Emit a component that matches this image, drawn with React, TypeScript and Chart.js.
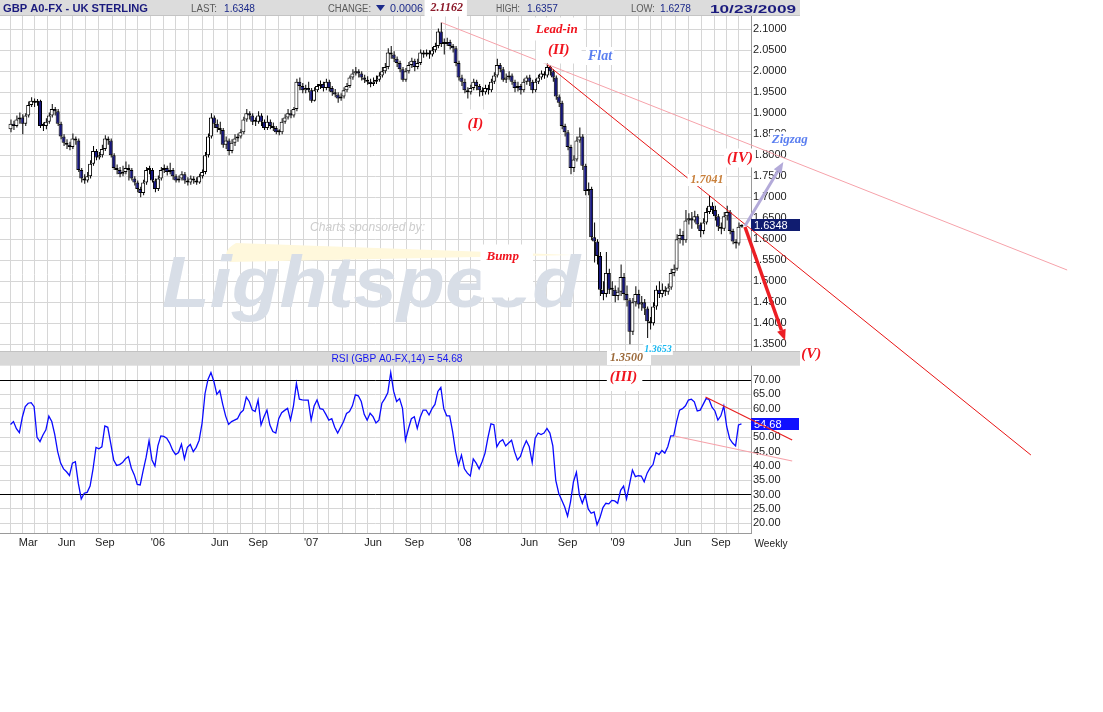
import React, { useEffect, useRef } from 'react';
import { Chart, registerables } from 'chart.js';
Chart.register(...registerables);

const SANS = '"Liberation Sans", Arial, sans-serif';
const SERIF = '"Liberation Serif", "Times New Roman", serif';

// ---------------- data ----------------
const FIRST_WEEK_UTC = Date.UTC(2005, 0, 21); // week ending Fri 21 Jan 2005
const FIRST_OPEN = 1.862;

const CLOSES = [
  1.875, 1.870, 1.885, 1.890, 1.875, 1.895, 1.920, 1.930, 1.925, 1.930,
  1.870, 1.870, 1.880, 1.895, 1.910, 1.905, 1.875, 1.845, 1.830, 1.825,
  1.820, 1.840, 1.835, 1.765, 1.745, 1.740, 1.750, 1.780, 1.810, 1.795,
  1.800, 1.815, 1.840, 1.835, 1.800, 1.770, 1.765, 1.755, 1.760, 1.770,
  1.765, 1.745, 1.735, 1.720, 1.710, 1.735, 1.765, 1.765, 1.740, 1.720,
  1.745, 1.765, 1.770, 1.760, 1.765, 1.750, 1.740, 1.745, 1.755, 1.740,
  1.735, 1.745, 1.740, 1.735, 1.750, 1.760, 1.800, 1.845, 1.890, 1.875,
  1.865, 1.860, 1.825, 1.835, 1.810, 1.830, 1.840, 1.845, 1.855, 1.885,
  1.900, 1.895, 1.880, 1.880, 1.895, 1.880, 1.865, 1.880, 1.870, 1.865,
  1.855, 1.855, 1.880, 1.890, 1.900, 1.895, 1.910, 1.975, 1.965, 1.955,
  1.960, 1.955, 1.930, 1.955, 1.965, 1.970, 1.960, 1.975, 1.960, 1.950,
  1.945, 1.935, 1.940, 1.955, 1.965, 1.985, 1.995, 2.000, 1.995, 1.985,
  1.980, 1.975, 1.970, 1.975, 1.980, 1.990, 2.000, 2.010, 2.045, 2.040,
  2.030, 2.020, 2.005, 1.980, 2.000, 2.015, 2.025, 2.010, 2.020, 2.045,
  2.040, 2.045, 2.040, 2.050, 2.060, 2.095, 2.065, 2.065, 2.070, 2.060,
  2.055, 2.020, 1.985, 1.975, 1.955, 1.950, 1.960, 1.975, 1.965, 1.955,
  1.950, 1.960, 1.955, 1.975, 1.990, 2.015, 2.005, 1.980, 1.985, 1.990,
  1.975, 1.960, 1.965, 1.955, 1.975, 1.985, 1.975, 1.955, 1.975, 1.985,
  1.995, 1.990, 2.010, 2.000, 1.985, 1.940, 1.925, 1.870, 1.855, 1.820,
  1.770, 1.790, 1.835, 1.845, 1.775, 1.715, 1.720, 1.605, 1.595, 1.560,
  1.480, 1.470, 1.520, 1.480, 1.480, 1.465, 1.475, 1.510, 1.470, 1.455,
  1.380, 1.450, 1.470, 1.445, 1.450, 1.435, 1.405, 1.400, 1.440, 1.480,
  1.470, 1.480, 1.475, 1.485, 1.520, 1.530, 1.600, 1.610, 1.598, 1.645,
  1.650, 1.645, 1.655, 1.635, 1.620, 1.640, 1.665, 1.680, 1.670, 1.655,
  1.630, 1.625, 1.655, 1.665, 1.620, 1.595, 1.590, 1.630, 1.6348,
];

const HIGHS = [
  1.885, 1.882, 1.895, 1.902, 1.898, 1.900, 1.928, 1.938, 1.935, 1.934,
  1.932, 1.878, 1.888, 1.902, 1.922, 1.915, 1.910, 1.880, 1.850, 1.838,
  1.832, 1.852, 1.845, 1.840, 1.770, 1.755, 1.760, 1.788, 1.822, 1.815,
  1.808, 1.825, 1.848, 1.845, 1.840, 1.805, 1.778, 1.772, 1.775, 1.785,
  1.778, 1.770, 1.750, 1.740, 1.725, 1.742, 1.772, 1.775, 1.770, 1.745,
  1.752, 1.772, 1.778, 1.775, 1.782, 1.770, 1.755, 1.752, 1.762, 1.760,
  1.748, 1.752, 1.750, 1.748, 1.756, 1.766, 1.808, 1.852, 1.900, 1.895,
  1.885, 1.880, 1.865, 1.845, 1.840, 1.838, 1.850, 1.852, 1.862, 1.892,
  1.910, 1.905, 1.900, 1.890, 1.905, 1.900, 1.885, 1.895, 1.885, 1.878,
  1.870, 1.862, 1.888, 1.898, 1.910, 1.908, 1.915, 1.982, 1.985, 1.972,
  1.968, 1.975, 1.960, 1.962, 1.970, 1.978, 1.975, 1.982, 1.980, 1.965,
  1.958, 1.950, 1.948, 1.962, 1.972, 1.990, 2.005, 2.010, 2.005, 2.000,
  1.992, 1.988, 1.982, 1.985, 1.990, 1.998, 2.010, 2.020, 2.055, 2.060,
  2.048, 2.035, 2.025, 2.010, 2.008, 2.022, 2.032, 2.030, 2.030, 2.052,
  2.050, 2.052, 2.050, 2.058, 2.068, 2.102, 2.1162, 2.078, 2.080, 2.075,
  2.065, 2.060, 2.025, 1.992, 1.982, 1.962, 1.968, 1.982, 1.980, 1.970,
  1.962, 1.968, 1.968, 1.982, 1.998, 2.030, 2.020, 2.010, 1.995, 2.000,
  1.995, 1.980, 1.975, 1.970, 1.982, 1.990, 1.992, 1.980, 1.982, 1.992,
  2.002, 2.000, 2.020, 2.015, 2.005, 1.990, 1.945, 1.930, 1.875, 1.860,
  1.825, 1.800, 1.845, 1.866, 1.850, 1.780, 1.735, 1.725, 1.640, 1.600,
  1.570, 1.500, 1.570, 1.530, 1.500, 1.490, 1.485, 1.540, 1.520, 1.490,
  1.460, 1.460, 1.488, 1.480, 1.465, 1.458, 1.440, 1.415, 1.450, 1.490,
  1.500, 1.495, 1.488, 1.495, 1.530, 1.540, 1.612, 1.625, 1.620, 1.670,
  1.662, 1.665, 1.668, 1.660, 1.640, 1.650, 1.675, 1.7041, 1.688, 1.680,
  1.660, 1.640, 1.665, 1.680, 1.670, 1.625, 1.600, 1.640, 1.6357,
];

const LOWS = [
  1.855, 1.860, 1.866, 1.875, 1.850, 1.870, 1.890, 1.915, 1.915, 1.918,
  1.865, 1.858, 1.862, 1.875, 1.890, 1.895, 1.870, 1.838, 1.822, 1.815,
  1.812, 1.815, 1.825, 1.760, 1.735, 1.732, 1.735, 1.745, 1.775, 1.788,
  1.790, 1.795, 1.810, 1.825, 1.795, 1.765, 1.755, 1.748, 1.750, 1.755,
  1.740, 1.740, 1.728, 1.712, 1.700, 1.705, 1.730, 1.755, 1.735, 1.712,
  1.715, 1.740, 1.758, 1.752, 1.755, 1.742, 1.735, 1.735, 1.740, 1.732,
  1.728, 1.730, 1.732, 1.730, 1.732, 1.745, 1.755, 1.795, 1.840, 1.865,
  1.855, 1.850, 1.818, 1.815, 1.800, 1.805, 1.822, 1.832, 1.840, 1.850,
  1.880, 1.885, 1.872, 1.870, 1.875, 1.870, 1.860, 1.860, 1.862, 1.858,
  1.850, 1.848, 1.850, 1.875, 1.885, 1.888, 1.890, 1.905, 1.955, 1.948,
  1.948, 1.950, 1.925, 1.928, 1.950, 1.958, 1.952, 1.955, 1.952, 1.942,
  1.938, 1.925, 1.930, 1.935, 1.950, 1.960, 1.980, 1.990, 1.985, 1.978,
  1.972, 1.968, 1.962, 1.965, 1.970, 1.975, 1.985, 1.995, 2.005, 2.030,
  2.022, 2.010, 1.998, 1.975, 1.975, 1.995, 2.008, 2.000, 2.005, 2.015,
  2.032, 2.035, 2.030, 2.035, 2.045, 2.055, 2.058, 2.040, 2.060, 2.052,
  2.045, 2.012, 1.978, 1.965, 1.948, 1.935, 1.945, 1.955, 1.955, 1.940,
  1.942, 1.945, 1.945, 1.950, 1.970, 1.985, 1.998, 1.975, 1.972, 1.980,
  1.968, 1.950, 1.952, 1.945, 1.950, 1.968, 1.965, 1.948, 1.950, 1.970,
  1.980, 1.982, 1.985, 1.990, 1.975, 1.932, 1.915, 1.862, 1.845, 1.812,
  1.755, 1.760, 1.785, 1.830, 1.765, 1.705, 1.705, 1.598, 1.545, 1.540,
  1.465, 1.455, 1.462, 1.470, 1.465, 1.450, 1.455, 1.465, 1.455, 1.440,
  1.350, 1.372, 1.440, 1.435, 1.430, 1.420, 1.3653, 1.385, 1.395, 1.432,
  1.460, 1.462, 1.465, 1.468, 1.480, 1.512, 1.525, 1.590, 1.585, 1.592,
  1.635, 1.625, 1.640, 1.625, 1.605, 1.612, 1.635, 1.660, 1.660, 1.645,
  1.620, 1.612, 1.620, 1.645, 1.612, 1.588, 1.578, 1.585, 1.6278,
];

const RSI = [
  54.5, 55.5, 53, 51.6, 57, 60.7, 61.9, 62.1, 60.7, 50,
  48.5, 50.8, 52.6, 57.4, 55.5, 51, 45, 41, 39, 38,
  36.7, 41, 41.5, 34, 28.5, 30.5, 30.8, 33, 39, 46.5,
  46, 46.7, 54, 53.5, 47.9, 42.1, 40.2, 40.5, 41.2, 42.5,
  43.3, 39.2, 36.9, 33.6, 33.4, 38.4, 43, 48.8, 42.1, 40,
  47, 50.5, 50.3, 49.7, 48, 45.5, 44, 44.7, 47.6, 42.5,
  46.5, 47.5, 45, 46.5, 49, 55, 65.3, 70.2, 72.6, 69.5,
  65, 66.3, 61.5, 57.4, 54.5, 55.5, 56, 56.5, 58.5, 59.5,
  64, 62.5, 59.6, 59, 63, 54.3, 57.2, 59.5, 54.3, 52,
  51.5, 56.5, 58.6, 59.4, 60.1, 56, 61, 68.8, 63.3, 63.1,
  63, 63, 56, 60.9, 63, 60, 59.8, 58, 56, 56.5,
  53.5, 51.5, 53.5, 55.5, 58.3, 59, 61, 64.8, 64.5, 62.5,
  58, 56, 58.4, 57.2, 55, 56, 61.9, 63.5, 65.5, 72.6,
  66, 62.5, 63.5, 60.1, 49, 53, 56.5, 57.2, 53.1, 57,
  59.5, 59.5, 57.8, 60, 61.5, 66, 67.4, 60, 57.5, 57.5,
  52, 45, 40.3, 43.8, 39, 37.5, 36.5, 42.5, 41, 39,
  41.5, 44.5, 50, 54.7, 54.4, 46.7, 48.5, 49.2, 47, 48,
  49, 45, 42.1, 43.3, 46.5, 48.8, 46.7, 41.2, 49.7, 51.5,
  51, 51.5, 53.1, 51.5, 47, 35, 30.5, 28.1, 25.8, 22.5,
  27.5, 34.5, 37.8, 29.9, 27, 29.9, 25, 23.5, 24, 19.5,
  22, 25.5, 27, 26.8, 28, 27.8, 27, 31.5, 33, 28.5,
  33.5, 38.6, 36.3, 36.6, 36.5, 34.5, 37.5, 39.3, 40.5, 44.7,
  44, 45.4, 44.5, 46.7, 50.5, 50.5, 55.5, 59.5, 60, 61,
  63, 63.3, 62.4, 59.2, 59.5, 61.5, 63.5, 63.2, 60.5, 59.2,
  56, 57.5, 60.9, 53.7, 49.5, 48, 47, 54.3, 54.68,
];

const PRICE_TICKS = [1.35, 1.4, 1.45, 1.5, 1.55, 1.6, 1.65, 1.7, 1.75, 1.8, 1.85, 1.9, 1.95, 2.0, 2.05, 2.1];
const RSI_TICKS = [20, 25, 30, 35, 40, 45, 50, 55, 60, 65, 70];
const RSI_GUIDES = [70, 30];
const X_LABELS: Record<string, string> = {
  '2005-03': 'Mar', '2005-06': 'Jun', '2005-09': 'Sep',
  '2006-01': "'06", '2006-06': 'Jun', '2006-09': 'Sep',
  '2007-01': "'07", '2007-06': 'Jun', '2007-09': 'Sep',
  '2008-01': "'08", '2008-06': 'Jun', '2008-09': 'Sep',
  '2009-01': "'09", '2009-06': 'Jun', '2009-09': 'Sep',
};

const HEADER_TITLE = 'GBP A0-FX - UK STERLING';
const HEADER_LAST = '1.6348';
const HEADER_CHANGE = '0.0006';
const HEADER_HIGH = '1.6357';
const HEADER_LOW = '1.6278';
const HEADER_DATE = '10/23/2009';
const RSI_TITLE = 'RSI (GBP A0-FX,14) = 54.68';

// trendlines in data units: [weekIndex, value]
const TRENDLINES = [
  { axis: 'y', from: [146.2, 2.1162], to: [358.5, 1.5269], color: '#f6a2aa', width: 1 },
  { axis: 'y', from: [182.2, 2.015], to: [346.2, 1.0864], color: '#e81414', width: 1 },
  { axis: 'rsi', from: [235.8, 64.07], to: [265.2, 49.07], color: '#e82020', width: 1.2 },
  { axis: 'rsi', from: [225.2, 50.46], to: [265.2, 41.74], color: '#f6a2aa', width: 1.2 },
];
const ARROWS = [
  { from: [249.2, 1.6317], to: [262.2, 1.784], color: '#b3aad9', width: 3 },
  { from: [249.2, 1.6293], to: [262.8, 1.3588], color: '#ec1e24', width: 3.5 },
];
const NOTES = [
  { text: '2.1162', axis: 'y', i: 148, v: 2.1519, color: '#8c1a2a', size: 12, box: [6, 4, 4, 3] },
  { text: 'Lead-in', axis: 'y', i: 185.3, v: 2.0983, color: '#f0141e', size: 13, box: [6, 6, 6, 4] },
  { text: '(II)', axis: 'y', i: 186, v: 2.0507, color: '#f0141e', size: 15, box: [12, 4, 12, 6] },
  { text: 'Flat', axis: 'y', i: 200, v: 2.0364, color: '#5b7ff0', size: 14, box: [2, 2, 2, 2] },
  { text: '(I)', axis: 'y', i: 157.7, v: 1.8745, color: '#f0141e', size: 15, box: [5, 7, 5, 20] },
  { text: '(IV)', axis: 'y', i: 247.5, v: 1.7936, color: '#f0141e', size: 15, box: [3, 2, 3, 2] },
  { text: 'Zigzag', axis: 'y', i: 264.4, v: 1.8364, color: '#5b7ff0', size: 13, box: [2, 2, 2, 2] },
  { text: '1.7041', axis: 'y', i: 236.3, v: 1.7412, color: '#c8803c', size: 12, box: [3, 0, 3, 0] },
  { text: 'Bump', axis: 'y', i: 167, v: 1.5579, color: '#f0141e', size: 13, box: [6, 6, 14, 34] },
  { text: '1.3500', axis: 'y', i: 209, v: 1.3174, color: '#9c6a3a', size: 12, box: [3, 1, 8, 1] },
  { text: '1.3653', axis: 'y', i: 219.7, v: 1.3388, color: '#1ab8f0', size: 10, box: [1, 1, 1, 1] },
  { text: '(III)', axis: 'rsi', i: 208, v: 70.87, color: '#f0141e', size: 15, box: [3, 4, 5, 6] },
  { text: '(V)', axis: 'y', i: 271.7, v: 1.3274, color: '#f0141e', size: 15, box: null },
];

// ---------------- derived structures ----------------
const OPENS = CLOSES.map((c, i) => (i === 0 ? FIRST_OPEN : CLOSES[i - 1]));
const DAY = 86400000;
const MONTH_TICKS: { value: number; label: string }[] = [];
for (let i = 1; i < CLOSES.length; i++) {
  const d = new Date(FIRST_WEEK_UTC + i * 7 * DAY);
  const p = new Date(FIRST_WEEK_UTC + (i - 1) * 7 * DAY);
  if (d.getUTCMonth() !== p.getUTCMonth()) {
    const key = `${d.getUTCFullYear()}-${String(d.getUTCMonth() + 1).padStart(2, '0')}`;
    MONTH_TICKS.push({ value: i, label: X_LABELS[key] || '' });
  }
}
const LABEL_BY_VALUE = new Map(MONTH_TICKS.map((t) => [t.value, t.label]));

// x range: week i sits at pixel 4 + 3i inside a 751px plot
const X_MIN = -4 / 3;
const X_MAX = 249;
const WICK_NUDGE = 1 / 6; // half a pixel, so 1px wicks land on whole pixels

function fitText(ctx: any, text: string, x: number, y: number, font: string, color: string, width?: number, align = 'left') {
  ctx.save();
  ctx.font = font;
  ctx.fillStyle = color;
  ctx.textBaseline = 'alphabetic';
  ctx.textAlign = 'left';
  const w = ctx.measureText(text).width;
  const s = width ? width / w : 1;
  let x0 = x;
  if (align === 'right') x0 = x - w * s;
  if (align === 'center') x0 = x - (w * s) / 2;
  ctx.translate(x0, y);
  ctx.scale(s, 1);
  ctx.fillText(text, 0, 0);
  ctx.restore();
}

const decor = {
  id: 'decor',
  beforeDatasetsDraw(chart: any) {
    const { ctx, chartArea, scales } = chart;
    const rsi = scales.rsi;
    const right = chartArea.right + 49;
    ctx.save();
    // RSI title band
    const bTop = rsi.top;
    const bBot = rsi.getPixelForValue(75);
    ctx.fillStyle = '#d8d8d8';
    ctx.fillRect(0, bTop, right, bBot - bTop);
    ctx.fillStyle = '#c2c2c2';
    ctx.fillRect(0, bTop, right, 1);
    fitText(ctx, RSI_TITLE, 397, bTop + 11, `11px ${SANS}`, '#1414f0', 131, 'center');

    // watermark
    fitText(ctx, 'Charts sponsored by:', 310, 231, `italic 12px ${SANS}`, '#cdcdcd', 115);
    ctx.fillStyle = '#fff8dc';
    ctx.beginPath();
    ctx.moveTo(236, 243);
    ctx.lineTo(574, 255);
    ctx.lineTo(230, 262);
    ctx.quadraticCurveTo(220, 252, 236, 243);
    ctx.closePath();
    ctx.fill();
    fitText(ctx, 'Lightspeed', 162, 307, `italic bold 72px ${SANS}`, '#d8dee7', 418);
    ctx.restore();
  },
  afterDraw(chart: any) {
    const { ctx, chartArea, scales } = chart;
    const xs = scales.x;
    const right = chartArea.right + 49;
    ctx.save();

    // header band
    ctx.fillStyle = '#dcdcdc';
    ctx.fillRect(0, 0, right, 16);
    ctx.fillStyle = '#c4c4c4';
    ctx.fillRect(0, 15, right, 1);
    const navy = '#1c2a8a';
    const grey = '#5a5a5a';
    fitText(ctx, HEADER_TITLE, 3, 12, `bold 11px ${SANS}`, '#1b1b7e', 145);
    fitText(ctx, 'LAST:', 191, 12, `10px ${SANS}`, grey, 26);
    fitText(ctx, HEADER_LAST, 224, 12, `10px ${SANS}`, navy, 31);
    fitText(ctx, 'CHANGE:', 328, 12, `10px ${SANS}`, grey, 43);
    ctx.fillStyle = navy;
    ctx.beginPath();
    ctx.moveTo(376, 5);
    ctx.lineTo(385, 5);
    ctx.lineTo(380.5, 11);
    ctx.closePath();
    ctx.fill();
    fitText(ctx, HEADER_CHANGE, 390, 12, `10px ${SANS}`, navy, 33);
    fitText(ctx, 'HIGH:', 496, 12, `10px ${SANS}`, grey, 24);
    fitText(ctx, HEADER_HIGH, 527, 12, `10px ${SANS}`, navy, 31);
    fitText(ctx, 'LOW:', 631, 12, `10px ${SANS}`, grey, 24);
    fitText(ctx, HEADER_LOW, 660, 12, `10px ${SANS}`, navy, 31);
    fitText(ctx, HEADER_DATE, 796, 12.5, `bold 11px ${SANS}`, '#1b1b7e', 86, 'right');

    // last value markers
    const last = CLOSES.length - 1;
    const py = scales.y.getPixelForValue(CLOSES[last]);
    ctx.fillStyle = '#101c70';
    ctx.fillRect(chartArea.right, Math.round(py) - 6, 49, 12);
    fitText(ctx, CLOSES[last].toFixed(4), chartArea.right + 3, Math.round(py) + 4, `11px ${SANS}`, '#ffffff');
    const ry = scales.rsi.getPixelForValue(RSI[last]);
    ctx.fillStyle = '#1010ff';
    ctx.fillRect(chartArea.right, Math.round(ry) - 6, 48, 12);
    fitText(ctx, RSI[last].toFixed(2), chartArea.right + 3, Math.round(ry) + 4, `11px ${SANS}`, '#ffffff');

    // trendlines
    for (const t of TRENDLINES) {
      const s = scales[t.axis];
      ctx.strokeStyle = t.color;
      ctx.lineWidth = t.width;
      ctx.beginPath();
      ctx.moveTo(xs.getPixelForValue(t.from[0]), s.getPixelForValue(t.from[1]));
      ctx.lineTo(xs.getPixelForValue(t.to[0]), s.getPixelForValue(t.to[1]));
      ctx.stroke();
    }
    // arrows
    for (const a of ARROWS) {
      const s = scales.y;
      const x1 = xs.getPixelForValue(a.from[0]);
      const y1 = s.getPixelForValue(a.from[1]);
      const x2 = xs.getPixelForValue(a.to[0]);
      const y2 = s.getPixelForValue(a.to[1]);
      const ang = Math.atan2(y2 - y1, x2 - x1);
      const head = 11;
      const hw = 4.5;
      const bx = x2 - head * Math.cos(ang);
      const by = y2 - head * Math.sin(ang);
      ctx.strokeStyle = a.color;
      ctx.lineWidth = a.width;
      ctx.lineCap = 'butt';
      ctx.beginPath();
      ctx.moveTo(x1, y1);
      ctx.lineTo(bx, by);
      ctx.stroke();
      ctx.fillStyle = a.color;
      ctx.beginPath();
      ctx.moveTo(x2, y2);
      ctx.lineTo(bx + hw * Math.sin(ang), by - hw * Math.cos(ang));
      ctx.lineTo(bx - hw * Math.sin(ang), by + hw * Math.cos(ang));
      ctx.closePath();
      ctx.fill();
    }

    // notes: boxes first, then texts
    const placed = NOTES.map((n) => {
      const font = `italic bold ${n.size}px ${SERIF}`;
      ctx.font = font;
      const w = ctx.measureText(n.text).width;
      return { n, font, w, x: xs.getPixelForValue(n.i), y: scales[n.axis].getPixelForValue(n.v) };
    });
    ctx.fillStyle = '#ffffff';
    for (const p of placed) {
      if (!p.n.box) continue;
      const [l, t, r, b] = p.n.box;
      ctx.fillRect(p.x - p.w / 2 - l, p.y - p.n.size / 2 - t, p.w + l + r, p.n.size + t + b);
    }
    for (const p of placed) {
      ctx.font = p.font;
      ctx.fillStyle = p.n.color;
      ctx.textAlign = 'center';
      ctx.textBaseline = 'middle';
      ctx.fillText(p.n.text, p.x, p.y);
    }

    fitText(ctx, 'Weekly', chartArea.right + 20, chartArea.bottom + 14, `11px ${SANS}`, '#222222', 33, 'center');
    ctx.restore();
  },
};

export default function App() {
  const ref = useRef<HTMLCanvasElement>(null);
  useEffect(() => {
    document.body.style.margin = '0';
    const wickData = CLOSES.map((_, i) => ({ x: i + WICK_NUDGE, y: [LOWS[i], HIGHS[i]] }));
    const bodyData = CLOSES.map((c, i) => ({ x: i, y: [OPENS[i], c] }));
    const bodyColors = CLOSES.map((c, i) => (c >= OPENS[i] ? '#ffffff' : '#16167e'));
    const rsiData = RSI.map((r, i) => ({ x: i, y: r }));
    const tickFont = { family: SANS, size: 11 };

    const chart = new Chart(ref.current as HTMLCanvasElement, {
      type: 'bar',
      data: {
        datasets: [
          {
            type: 'bar', data: wickData as any, xAxisID: 'x', yAxisID: 'y',
            backgroundColor: '#000000', borderWidth: 0, barThickness: 1, grouped: false, order: 3,
            inflateAmount: 0,
          } as any,
          {
            type: 'bar', data: bodyData as any, xAxisID: 'x', yAxisID: 'y',
            backgroundColor: bodyColors, borderColor: '#000000', borderWidth: 1, borderSkipped: false,
            barThickness: 4, minBarLength: 2, grouped: false, order: 2, inflateAmount: 0,
          } as any,
          {
            type: 'line', data: rsiData as any, xAxisID: 'x', yAxisID: 'rsi',
            borderColor: '#0a0aff', borderWidth: 1.3, pointRadius: 0, tension: 0, order: 1,
          } as any,
        ],
      },
      options: {
        responsive: false,
        animation: false,
        events: [],
        layout: { padding: { left: 0, top: 16, right: 303, bottom: 164 } },
        plugins: { legend: { display: false }, tooltip: { enabled: false } },
        scales: {
          x: {
            type: 'linear', min: X_MIN, max: X_MAX,
            afterBuildTicks: (s: any) => { s.ticks = MONTH_TICKS.map((t) => ({ value: t.value })); },
            afterFit: (s: any) => { s.height = 15; },
            ticks: {
              autoSkip: false, maxRotation: 0, minRotation: 0, padding: 3, font: tickFont, color: '#222222',
              callback: (v: any) => LABEL_BY_VALUE.get(Number(v)) ?? '',
            },
            grid: { color: '#d6d6d6', drawTicks: false, lineWidth: 1 },
            border: { color: '#9a9a9a' },
          },
          y: {
            type: 'linear', position: 'right', stack: 'panels', stackWeight: 335,
            min: 1.33405, max: 2.13167,
            afterBuildTicks: (s: any) => { s.ticks = PRICE_TICKS.map((v) => ({ value: v })); },
            afterFit: (s: any) => { s.width = 49; },
            ticks: { autoSkip: false, padding: 2, font: tickFont, color: '#222222', callback: (v: any) => Number(v).toFixed(4) },
            grid: { color: '#d6d6d6', drawTicks: false },
            border: { color: '#9a9a9a' },
          },
          rsi: {
            type: 'linear', position: 'right', stack: 'panels', stackWeight: 182,
            min: 16.62, max: 80.12,
            afterBuildTicks: (s: any) => { s.ticks = RSI_TICKS.map((v) => ({ value: v })); },
            afterFit: (s: any) => { s.width = 49; },
            ticks: { autoSkip: false, padding: 2, font: tickFont, color: '#222222', callback: (v: any) => Number(v).toFixed(2) },
            grid: {
              drawTicks: false,
              color: (c: any) => (c.tick && RSI_GUIDES.includes(c.tick.value) ? '#000000' : '#d6d6d6'),
            },
            border: { color: '#9a9a9a' },
          },
        } as any,
      },
      plugins: [decor],
    } as any);
    return () => chart.destroy();
  }, []);

  return (
    <div style={{ position: 'absolute', left: 0, top: 0, width: 1103, height: 712, background: '#ffffff' }}>
      <canvas ref={ref} width={1103} height={712} style={{ display: 'block' }} />
    </div>
  );
}
